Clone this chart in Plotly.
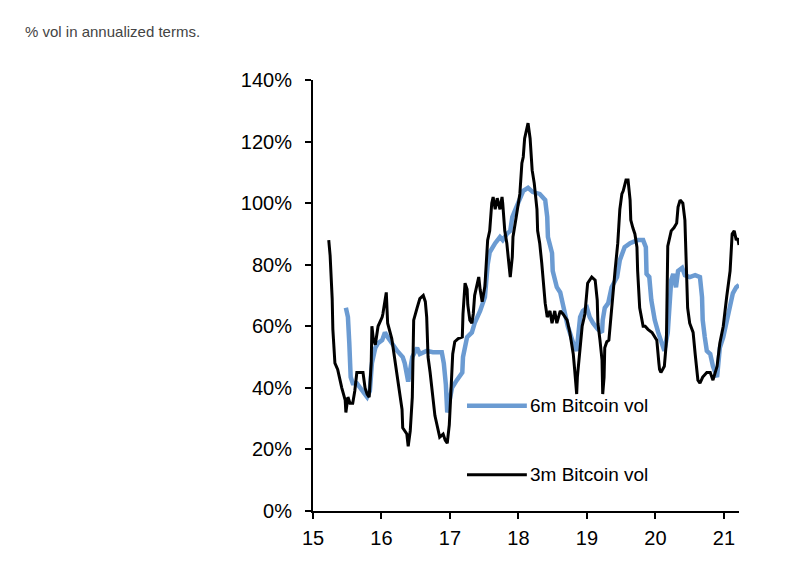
import plotly.graph_objects as go

# 3m Bitcoin vol (black), x in years (15 = 2015), y in %
vol3m_x = [15.23, 15.25, 15.28, 15.29, 15.32, 15.36, 15.42, 15.47, 15.48, 15.51, 15.54, 15.58, 15.61, 15.64,
           15.69, 15.73, 15.76, 15.79, 15.82, 15.85, 15.86, 15.88, 15.91, 15.95, 16.01, 16.02, 16.07, 16.08,
           16.09, 16.15, 16.20, 16.24, 16.30, 16.31, 16.37, 16.39, 16.42, 16.45, 16.46, 16.47, 16.52, 16.56,
           16.61, 16.64, 16.66, 16.68, 16.71, 16.74, 16.78, 16.81, 16.85, 16.90, 16.93, 16.96, 16.99, 17.01,
           17.03, 17.04, 17.07, 17.12, 17.18, 17.19, 17.22, 17.25, 17.26, 17.29, 17.32, 17.34, 17.36, 17.41,
           17.42, 17.44, 17.47, 17.51, 17.54, 17.55, 17.58, 17.61, 17.63, 17.66, 17.69, 17.73, 17.76, 17.77,
           17.80, 17.83, 17.85, 17.88, 17.91, 17.92, 17.96, 17.99, 18.02, 18.05, 18.07, 18.09, 18.12, 18.14,
           18.17, 18.20, 18.23, 18.27, 18.28, 18.31, 18.34, 18.36, 18.39, 18.42, 18.46, 18.49, 18.53, 18.56,
           18.61, 18.65, 18.71, 18.75, 18.80, 18.82, 18.85, 18.86, 18.90, 18.93, 18.97, 19.00, 19.01, 19.07,
           19.12, 19.15, 19.16, 19.19, 19.22, 19.23, 19.25, 19.26, 19.29, 19.32, 19.35, 19.38, 19.41, 19.45,
           19.48, 19.51, 19.53, 19.57, 19.60, 19.63, 19.64, 19.67, 19.70, 19.73, 19.74, 19.77, 19.82, 19.85,
           19.89, 19.95, 19.99, 20.02, 20.05, 20.06, 20.08, 20.13, 20.16, 20.17, 20.18, 20.23, 20.27, 20.31,
           20.33, 20.36, 20.40, 20.43, 20.46, 20.47, 20.50, 20.55, 20.58, 20.61, 20.62, 20.65, 20.69, 20.75,
           20.80, 20.84, 20.90, 20.94, 20.99, 21.04, 21.09, 21.12, 21.15, 21.18, 21.20, 21.22]
vol3m_y = [88, 83, 69, 59, 48, 46, 40, 36, 32, 37, 35, 35, 39, 45,
           45, 45, 40, 38, 37, 48, 60, 56, 54, 60, 63, 64, 71, 66,
           61, 56, 48, 42, 33, 27, 25, 21, 26, 37, 55, 62, 66, 69,
           70, 68, 63, 50, 45, 39, 31, 28, 24, 25, 23, 22, 28, 37,
           45, 51, 55, 56, 56.5, 64, 74, 72, 67, 62, 61, 64, 70, 76,
           76, 72, 68, 73, 82, 88, 91, 100, 102, 98, 101.6, 98, 102, 100,
           91, 87, 82.5, 76, 82.5, 89, 94.5, 98.7, 103, 113, 115, 121, 124.7, 126,
           121, 110.7, 106.5, 98, 91, 87, 80.5, 74, 67.5, 63, 65, 61, 65, 61,
           65, 64, 62, 58, 51, 46, 38, 43.5, 53, 60, 64, 71, 74, 76,
           75, 68.5, 61, 55.5, 49, 38, 43.5, 53, 55, 55.5, 63, 72.7, 78, 87,
           98, 103, 104, 107.5, 107.5, 101, 94.5, 92, 90, 85.7, 78, 66, 60, 60,
           59, 58, 56.5, 55.5, 48, 46, 45, 47, 55, 70, 86, 91, 92, 93.5,
           98.7, 101, 100, 94.5, 75, 66, 61, 58, 51, 45, 42.5, 41.5, 43.5, 45,
           45, 42.5, 47, 54.5, 60, 69.5, 78, 90, 91, 88, 88.6, 86.4]

# 6m Bitcoin vol (blue)
vol6m_x = [15.48, 15.51, 15.53, 15.55, 15.58, 15.64, 15.69, 15.73, 15.79, 15.83, 15.86, 15.91, 15.95, 16.01,
           16.05, 16.09, 16.15, 16.23, 16.31, 16.34, 16.39, 16.42, 16.45, 16.52, 16.56, 16.66, 16.75, 16.85,
           16.88, 16.91, 16.94, 16.96, 16.99, 17.03, 17.10, 17.18, 17.19, 17.25, 17.32, 17.36, 17.44, 17.51,
           17.55, 17.58, 17.66, 17.73, 17.77, 17.83, 17.88, 17.91, 17.95, 18.02, 18.07, 18.14, 18.21, 18.31,
           18.39, 18.42, 18.43, 18.49, 18.50, 18.56, 18.61, 18.65, 18.72, 18.80, 18.85, 18.90, 18.94, 19.00,
           19.04, 19.09, 19.16, 19.22, 19.23, 19.26, 19.31, 19.36, 19.44, 19.48, 19.55, 19.63, 19.74, 19.82,
           19.86, 19.87, 19.91, 19.94, 19.99, 20.04, 20.09, 20.13, 20.18, 20.23, 20.26, 20.30, 20.33, 20.39,
           20.43, 20.50, 20.58, 20.65, 20.68, 20.69, 20.72, 20.75, 20.80, 20.84, 20.90, 20.91, 20.94, 20.99,
           21.04, 21.09, 21.13, 21.18, 21.22]
vol6m_y = [66, 63, 54.5, 43.5, 41.5, 41.5, 40, 39, 37, 39, 48, 53, 54.5, 55.5,
           58, 56.5, 54.5, 52, 50, 48, 42, 47, 50, 53, 51, 52, 51.6, 51.6,
           51.6, 48, 41, 32, 36, 40, 42.5, 45, 50, 56.5, 58, 61, 65, 69.5,
           80, 84, 87, 89, 88, 90, 91, 95.5, 97.7, 102, 104, 105, 103.6, 103,
           101, 95.5, 89, 83.8, 78, 72.7, 71, 67, 60, 54.5, 52, 63, 65, 66,
           63, 61, 59, 58, 62, 66, 67.5, 72.7, 76, 81.5, 85.7, 87, 88, 88,
           85.7, 77, 76, 68.5, 62, 58, 54.5, 52, 58, 75, 77, 72.7, 78, 79,
           76.6, 76, 76.6, 76, 69.5, 62, 56.5, 52, 51, 47, 43.5, 47, 53, 56.5,
           62, 66, 70.7, 72.7, 73.4]

series_names = ["6m Bitcoin vol", "3m Bitcoin vol"]
series_colors = ["#6b9bd2", "#000000"]
series_widths = [4.5, 3]

x_ticks = [15, 16, 17, 18, 19, 20, 21]
y_ticks = [0, 20, 40, 60, 80, 100, 120, 140]
y_tick_labels = [f"{v}%" for v in y_ticks]

subtitle = "% vol in annualized terms."

FONT = "Liberation Sans, Arial, sans-serif"

fig = go.Figure()
fig.add_trace(go.Scatter(x=vol6m_x, y=vol6m_y, mode="lines", name=series_names[0],
                         line=dict(color=series_colors[0], width=series_widths[0]),
                         showlegend=False, hoverinfo="skip"))
fig.add_trace(go.Scatter(x=vol3m_x, y=vol3m_y, mode="lines", name=series_names[1],
                         line=dict(color=series_colors[1], width=series_widths[1]),
                         showlegend=False, hoverinfo="skip"))

# manual legend (inside plot area, paper coords)
legend_y = [0.244, 0.084]
for name, col, w, ly in zip(series_names, series_colors, series_widths, legend_y):
    fig.add_shape(type="line", xref="paper", yref="paper", x0=0.3615, x1=0.502, y0=ly, y1=ly,
                  line=dict(color=col, width=w))
    fig.add_annotation(xref="paper", yref="paper", x=0.505, y=ly, text=name, showarrow=False,
                       xanchor="left", yanchor="middle", font=dict(family=FONT, size=19, color="#000"))

fig.add_annotation(xref="paper", yref="paper", x=-0.681, y=1.112, text=subtitle, showarrow=False,
                   xanchor="left", yanchor="middle", font=dict(family=FONT, size=15, color="#444"))

fig.update_layout(
    width=800, height=565,
    margin=dict(l=305, r=69, t=72, b=62),
    paper_bgcolor="white", plot_bgcolor="white",
    font=dict(family=FONT, size=20, color="#000"),
    hovermode=False,
    xaxis=dict(range=[15, 21.22], tickvals=x_ticks, ticktext=[str(v) for v in x_ticks],
               showline=True, linecolor="#000", linewidth=2, ticks="outside", ticklen=6,
               tickwidth=2, tickcolor="#000", showgrid=False, zeroline=False,
               ticklabelstandoff=2, tickfont=dict(family=FONT, size=20)),
    yaxis=dict(range=[0, 140], tickvals=y_ticks, ticktext=y_tick_labels,
               showline=True, linecolor="#000", linewidth=2, ticks="outside", ticklen=6,
               tickwidth=2, tickcolor="#000", showgrid=False, zeroline=False,
               ticklabelstandoff=9, tickfont=dict(family=FONT, size=20)),
)

fig.write_html("out.html", config={"displayModeBar": False})
